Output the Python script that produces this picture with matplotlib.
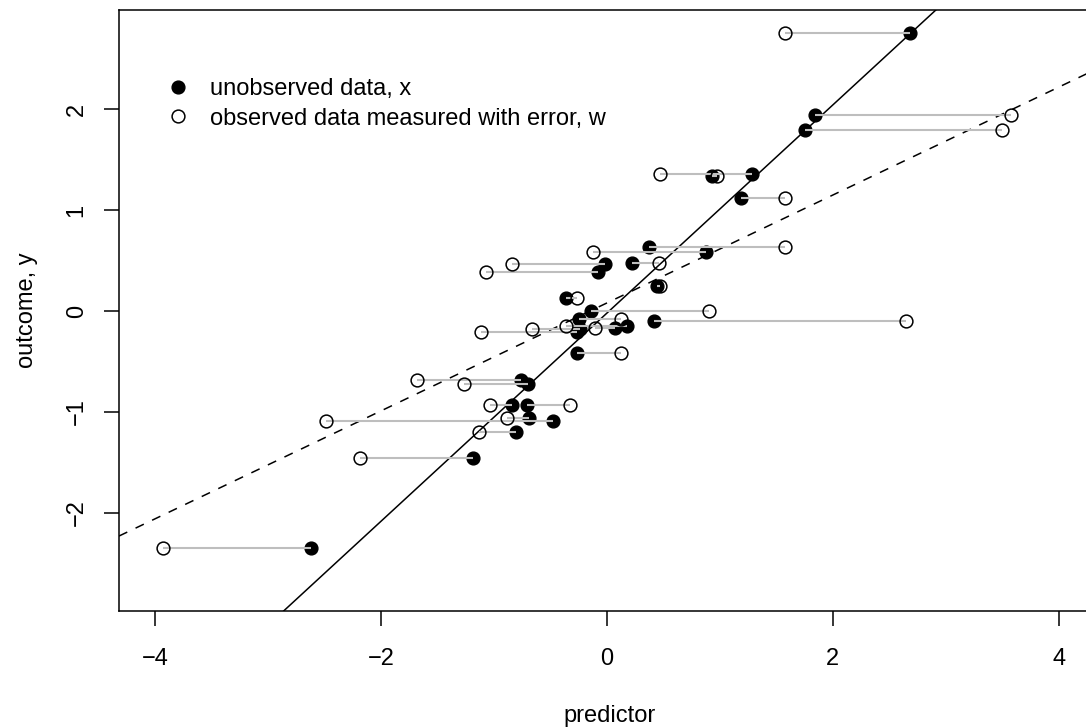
import matplotlib
matplotlib.use("Agg")
import matplotlib.pyplot as plt
from matplotlib.lines import Line2D

# ---- data ----
x_true = [2.68, 1.84, 1.75, 1.28, 0.93, 1.19, 0.37, 0.88, -0.02, 0.22,
          -0.08, 0.44, -0.36, -0.14, -0.25, 0.42, 0.18, 0.07, -0.24, -0.27,
          -0.27, -0.76, -0.70, -0.84, -0.71, -0.48, -0.69, -0.81, -1.19, -2.62]
w_obs = [1.58, 3.58, 3.50, 0.47, 0.97, 1.58, 1.58, -0.12, -0.84, 0.46,
         -1.07, 0.47, -0.27, 0.90, 0.12, 2.65, -0.36, -0.11, -0.66, -1.12,
         0.12, -1.68, -1.27, -1.04, -0.33, -2.49, -0.89, -1.13, -2.19, -3.93]
y_out = [2.75, 1.94, 1.79, 1.36, 1.34, 1.12, 0.63, 0.585, 0.47, 0.48,
         0.385, 0.25, 0.13, 0.0, -0.08, -0.10, -0.15, -0.17, -0.18, -0.21,
         -0.42, -0.68, -0.72, -0.93, -0.93, -1.09, -1.06, -1.20, -1.46, -2.35]

# fitted lines (intercept, slope)
fit_x = (-0.02, 1.03)   # regression on true x (solid)
fit_w = (0.08, 0.534)   # regression on error-prone w (dashed)

x_ticks = [-4, -2, 0, 2, 4]
y_ticks = [-2, -1, 0, 1, 2]
legend_labels = ["unobserved data, x", "observed data measured with error, w"]
xlabel = "predictor"
ylabel = "outcome, y"

plt.rcParams['font.family'] = ['Liberation Sans', 'DejaVu Sans']
FS = 17

W, H = 1086, 727
fig = plt.figure(figsize=(W / 100, H / 100), dpi=100)
left_px, right_px, top_px, bot_px = 119, 1100, 10, 611
ax = fig.add_axes([left_px / W, (H - bot_px) / H,
                   (right_px - left_px) / W, (bot_px - top_px) / H])

px_per_x = 112.9
x0_px = 607
px_per_y = 101.0
y0_px = 311
ax.set_xlim((left_px - x0_px) / px_per_x, (right_px - x0_px) / px_per_x)
ax.set_ylim((y0_px - bot_px) / px_per_y, (y0_px - top_px) / px_per_y)

# filled points
ax.plot(x_true, y_out, linestyle='none', marker='o', ms=9.2,
        mfc='black', mec='black', mew=1.0, zorder=3)
# segments
ax.hlines(y_out, w_obs, x_true, colors='#bebebe', linewidth=1.5, zorder=4)
# open points
ax.plot(w_obs, y_out, linestyle='none', marker='o', ms=9.2,
        mfc='none', mec='black', mew=1.1, zorder=5)

# regression lines
ax.axline((0, fit_x[0]), slope=fit_x[1], color='black', lw=1.1, zorder=2)
ax.axline((0, fit_w[0]), slope=fit_w[1], color='black', lw=1.1,
          linestyle=(0, (6, 6)), zorder=2)

for s in ax.spines.values():
    s.set_linewidth(1.1)

ax.set_xticks(x_ticks)
ax.set_xticklabels([str(v).replace('-', '\u2212') for v in x_ticks])
ax.set_yticks(y_ticks)
ax.set_yticklabels([str(v).replace('-', '\u2212') for v in y_ticks],
                   rotation=90, va='center')
ax.tick_params(axis='both', length=10.5, width=1.1, labelsize=FS)
ax.tick_params(axis='x', pad=16)
ax.tick_params(axis='y', pad=12)

ax.set_xlabel(xlabel, fontsize=FS, labelpad=25)
fig.text(33 / W, (H - 310) / H, ylabel, fontsize=FS, rotation=90,
         ha='center', va='baseline', rotation_mode='anchor')

handles = [Line2D([], [], linestyle='none', marker='o', ms=9.2, mfc='black',
                  mec='black'),
           Line2D([], [], linestyle='none', marker='o', ms=9.2, mfc='none',
                  mec='black', mew=1.1)]
ax_w = right_px - left_px
ax_h = bot_px - top_px
ax.legend(handles, legend_labels, loc='upper left', frameon=False,
          fontsize=FS, handlelength=1.0, handletextpad=0.85,
          borderpad=0, borderaxespad=0, labelspacing=0.32,
          bbox_to_anchor=((166 - left_px) / ax_w, (bot_px - 78) / ax_h))

fig.savefig("out.png", dpi=100)
